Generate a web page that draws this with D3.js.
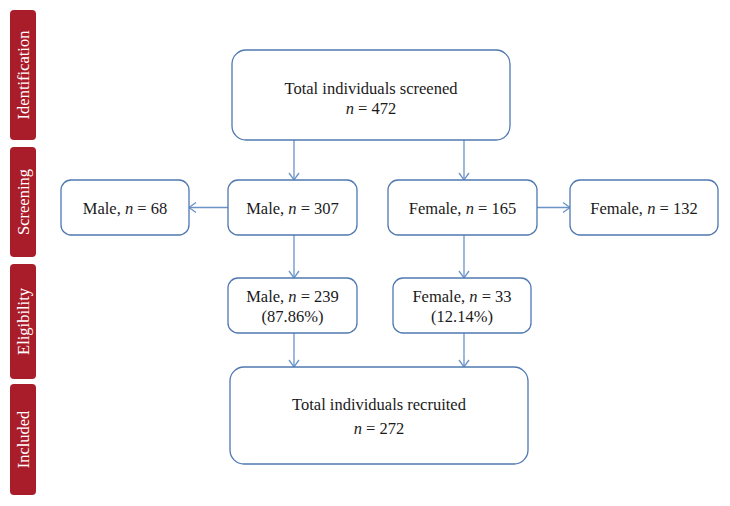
<!DOCTYPE html>
<html>
<head>
<meta charset="utf-8">
<script src="https://cdn.jsdelivr.net/npm/d3@7"></script>
<style>
  body { margin: 0; background: #fff; }
  text { font-family: "Liberation Serif", "DejaVu Serif", serif; }
</style>
</head>
<body>
<script>
// stage names down the left side
var stages = ["Identification", "Screening", "Eligibility", "Included"];

// box labels (lines; "n" is set in italics)
var boxLabels = {
  total:    [["Total individuals screened"], ["n", " = 472"]],
  male68:   [["Male, ", "n", " = 68"]],
  male307:  [["Male, ", "n", " = 307"]],
  fem165:   [["Female, ", "n", " = 165"]],
  fem132:   [["Female, ", "n", " = 132"]],
  male239:  [["Male, ", "n", " = 239"], ["(87.86%)"]],
  fem33:    [["Female, ", "n", " = 33"], ["(12.14%)"]],
  recruit:  [["Total individuals recruited"], ["n", " = 272"]]
};

// arrows between boxes
var links = [
  ["total", "male307", "down"], ["total", "fem165", "down"],
  ["male307", "male68", "left"], ["fem165", "fem132", "right"],
  ["male307", "male239", "down"], ["fem165", "fem33", "down"],
  ["male239", "recruit", "down"], ["fem33", "recruit", "down"]
];

var width = 730, height = 506;

var svg = d3.select("body").append("svg")
    .attr("width", width)
    .attr("height", height);

// layout of the stage tabs
var stageY = d3.scaleOrdinal().domain(stages).range([[10, 140], [147, 257], [264, 379], [384, 495]]);

var tabs = svg.selectAll("g.stage")
  .data(stages)
  .enter().append("g")
    .attr("class", "stage");

tabs.append("rect")
    .attr("x", 10)
    .attr("y", function(d) { return stageY(d)[0]; })
    .attr("width", 26)
    .attr("height", function(d) { return stageY(d)[1] - stageY(d)[0]; })
    .attr("rx", 4)
    .attr("fill", "#a91d2a");

tabs.append("text")
    .attr("transform", function(d) {
      var cy = (stageY(d)[0] + stageY(d)[1]) / 2;
      return "translate(23," + cy + ") rotate(-90)";
    })
    .attr("text-anchor", "middle")
    .attr("dominant-baseline", "central")
    .attr("fill", "#fff")
    .attr("font-size", 16.5)
    .text(function(d) { return d; });

// box geometry (layout only): lh = line height, dy = text shift
var layout = {
  total:   {x0: 232, x1: 510, y0: 50,  y1: 140, r: 14, lh: 20, dy: 3},
  male68:  {x0: 61,  x1: 189, y0: 180, y1: 235, r: 10, lh: 20, dy: 0},
  male307: {x0: 228, x1: 357, y0: 180, y1: 235, r: 10, lh: 20, dy: 0},
  fem165:  {x0: 388, x1: 537, y0: 180, y1: 235, r: 10, lh: 20, dy: 0},
  fem132:  {x0: 570, x1: 718, y0: 180, y1: 235, r: 10, lh: 20, dy: 0},
  male239: {x0: 228, x1: 357, y0: 278, y1: 333, r: 10, lh: 20, dy: 0},
  fem33:   {x0: 393, x1: 531, y0: 278, y1: 333, r: 10, lh: 20, dy: 0},
  recruit: {x0: 230, x1: 528, y0: 367, y1: 464, r: 14, lh: 24, dy: 0}
};

// arrow columns for the vertical connectors
var colX = {male307: 294, fem165: 464, male239: 294, fem33: 464};

var lineColor = "#6b93c8";
var boxStroke = "#4f78b0";

// arrows
links.forEach(function(l) {
  var a = layout[l[0]], b = layout[l[1]];
  var x1, y1, x2, y2;
  if (l[2] === "down") {
    var cx = colX[l[1]] || colX[l[0]];
    x1 = x2 = cx; y1 = a.y1; y2 = b.y0;
  } else if (l[2] === "left") {
    y1 = y2 = (a.y0 + a.y1) / 2; x1 = a.x0; x2 = b.x1;
  } else {
    y1 = y2 = (a.y0 + a.y1) / 2; x1 = a.x1; x2 = b.x0;
  }
  svg.append("line")
      .attr("x1", x1).attr("y1", y1).attr("x2", x2).attr("y2", y2)
      .attr("stroke", lineColor).attr("stroke-width", 1.3);
  var ang = Math.atan2(y2 - y1, x2 - x1), s = 7, w = 5;
  var p = d3.path();
  p.moveTo(x2 - s * Math.cos(ang) + w * Math.sin(ang), y2 - s * Math.sin(ang) - w * Math.cos(ang));
  p.lineTo(x2, y2);
  p.lineTo(x2 - s * Math.cos(ang) - w * Math.sin(ang), y2 - s * Math.sin(ang) + w * Math.cos(ang));
  svg.append("path")
      .attr("d", p.toString())
      .attr("fill", "none")
      .attr("stroke", lineColor).attr("stroke-width", 1.3);
});

// boxes
var keys = Object.keys(boxLabels);
var boxes = svg.selectAll("g.box")
  .data(keys)
  .enter().append("g")
    .attr("class", "box");

boxes.append("rect")
    .attr("x", function(k) { return layout[k].x0; })
    .attr("y", function(k) { return layout[k].y0; })
    .attr("width", function(k) { return layout[k].x1 - layout[k].x0; })
    .attr("height", function(k) { return layout[k].y1 - layout[k].y0; })
    .attr("rx", function(k) { return layout[k].r; })
    .attr("fill", "#fff")
    .attr("stroke", boxStroke)
    .attr("stroke-width", 1.3);

boxes.each(function(k) {
  var g = d3.select(this), L = layout[k], lines = boxLabels[k];
  var cy = (L.y0 + L.y1) / 2 - (lines.length - 1) * L.lh / 2 + L.dy;
  lines.forEach(function(parts, i) {
    var t = g.append("text")
        .attr("x", (L.x0 + L.x1) / 2)
        .attr("y", cy + i * L.lh)
        .attr("text-anchor", "middle")
        .attr("dominant-baseline", "central")
        .attr("font-size", 16.5)
        .attr("fill", "#1a1a1a");
    parts.forEach(function(s) {
      t.append("tspan")
          .attr("font-style", s === "n" ? "italic" : null)
          .text(s);
    });
  });
});
</script>
</body>
</html>
